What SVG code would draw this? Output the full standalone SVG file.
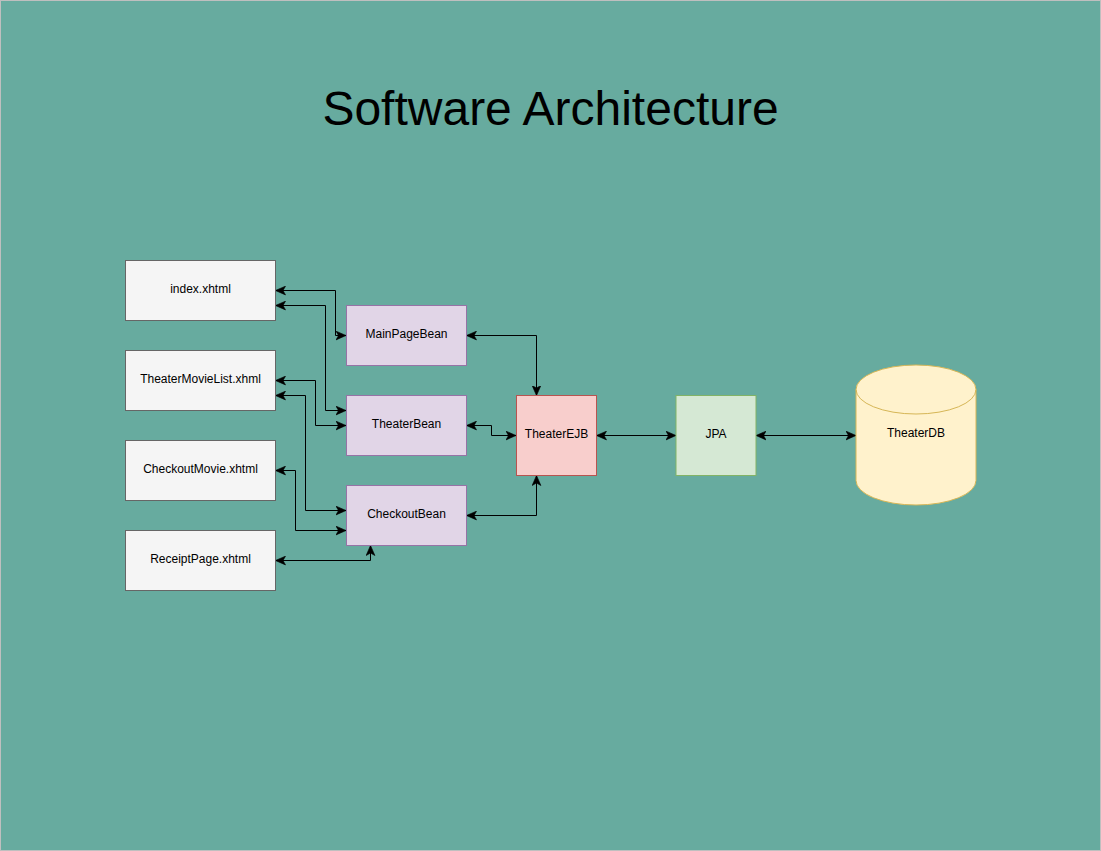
<svg xmlns="http://www.w3.org/2000/svg" width="1101" height="851" viewBox="0 0 1101 851">
<defs>
<style>
.lbl{font-family:"Liberation Sans",Arial,sans-serif;font-size:12px;fill:#000;text-anchor:middle}
.page{fill:#f5f5f5;stroke:#666666;stroke-width:1}
.bean{fill:#e1d5e7;stroke:#9673a6;stroke-width:1}
.conn path{fill:none;stroke:#000;stroke-width:1;marker-start:url(#arr);marker-end:url(#arr)}
</style>
<marker id="arr" markerUnits="userSpaceOnUse" markerWidth="10" markerHeight="10" refX="8" refY="3.5" orient="auto-start-reverse" viewBox="0 0 8 7">
<path d="M0,0 L8,3.5 L0,7 L2,3.5 Z" fill="#000" stroke="#000" stroke-width="0.5"/>
</marker>
</defs>
<rect x="0.5" y="0.5" width="1100" height="850" fill="#67ab9f" stroke="#bfbfbf" stroke-width="1"/>
<text x="550.5" y="125" font-family="'Liberation Sans',Arial,sans-serif" font-size="48" text-anchor="middle" fill="#000">Software Architecture</text>

<g class="conn" id="connectors">
<path d="M275.5,290.5 H335.5 V335.5 H346"/>
<path d="M275.5,305.5 H325.5 V410.5 H346"/>
<path d="M275.5,380.5 H315.5 V425.5 H346"/>
<path d="M275.5,395.5 H305.5 V510.5 H346"/>
<path d="M275.5,470.5 H295.5 V530.5 H346"/>
<path d="M275.5,560.5 H370.5 V545.5"/>
<path d="M466.5,335.5 H536.5 V395.5"/>
<path d="M466.5,425.5 H491.5 V435.5 H516"/>
<path d="M466.5,515.5 H536.5 V475.5"/>
<path d="M596.5,435.5 H676"/>
<path d="M756,435.5 H856"/>
</g>

<g id="index"><rect class="page" x="125.5" y="260.5" width="150" height="60"/><text class="lbl" x="200.5" y="293">index.xhtml</text></g>
<g id="theaterMovieList"><rect class="page" x="125.5" y="350.5" width="150" height="60"/><text class="lbl" x="200.5" y="383">TheaterMovieList.xhml</text></g>
<g id="checkoutMovie"><rect class="page" x="125.5" y="440.5" width="150" height="60"/><text class="lbl" x="200.5" y="473">CheckoutMovie.xhtml</text></g>
<g id="receiptPage"><rect class="page" x="125.5" y="530.5" width="150" height="60"/><text class="lbl" x="200.5" y="563">ReceiptPage.xhtml</text></g>

<g id="mainPageBean"><rect class="bean" x="346.5" y="305.5" width="120" height="60"/><text class="lbl" x="406.5" y="338">MainPageBean</text></g>
<g id="theaterBean"><rect class="bean" x="346.5" y="395.5" width="120" height="60"/><text class="lbl" x="406.5" y="428">TheaterBean</text></g>
<g id="checkoutBean"><rect class="bean" x="346.5" y="485.5" width="120" height="60"/><text class="lbl" x="406.5" y="518">CheckoutBean</text></g>

<g id="theaterEJB"><rect x="516.5" y="395.5" width="80" height="80" fill="#f8cecc" stroke="#b85450"/><text class="lbl" x="556.5" y="438">TheaterEJB</text></g>
<g id="jpa"><rect x="676" y="395.5" width="80" height="80" fill="#d5e8d4" stroke="#82b366"/><text class="lbl" x="716" y="438">JPA</text></g>
<g id="theaterDB">
<path d="M856,389.5 A60,24.5 0 0 1 976,389.5 V480.5 A60,24.5 0 0 1 856,480.5 Z" fill="#fff2cc" stroke="#d6b656"/>
<path d="M856,389.5 A60,24.5 0 0 0 976,389.5" fill="none" stroke="#d6b656"/>
<text class="lbl" x="916" y="437">TheaterDB</text>
</g>
</svg>
